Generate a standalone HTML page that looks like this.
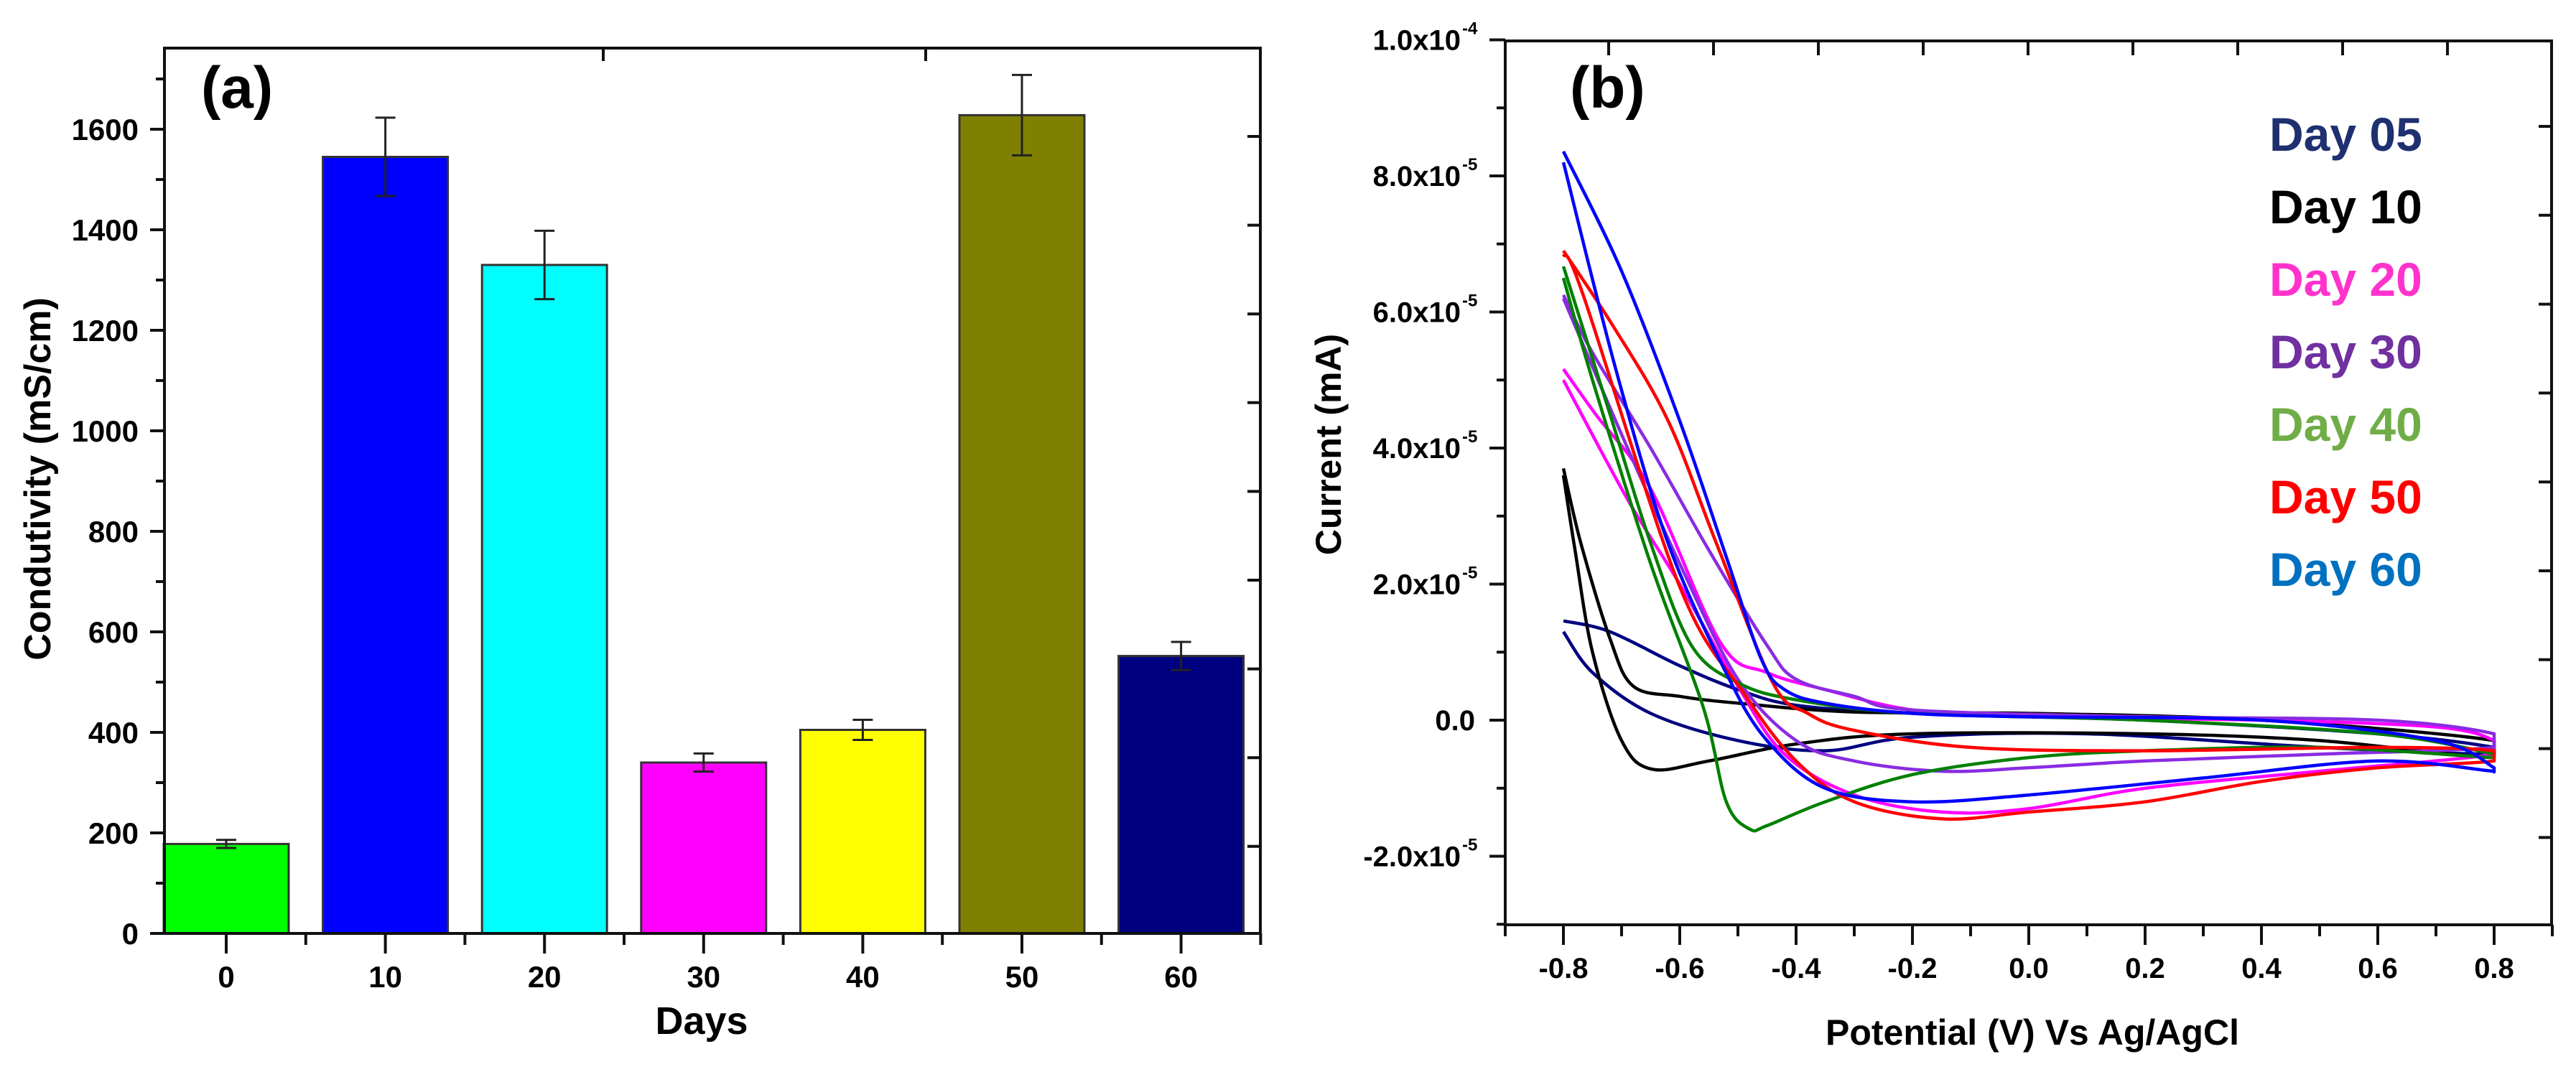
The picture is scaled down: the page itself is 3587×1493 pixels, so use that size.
<!DOCTYPE html>
<html><head><meta charset="utf-8"><style>
html,body{margin:0;padding:0;background:#fff}
svg{display:block}
text{font-family:"Liberation Sans",sans-serif;font-weight:bold}
</style></head><body>
<svg id="fig" xmlns="http://www.w3.org/2000/svg" width="3587" height="1493" viewBox="0 0 3587 1493">
<g id="chartA"></g>
<g id="chartB"></g>
</svg>
<script>
// ---- Chart A data ----
const daysCats = ["0","10","20","30","40","50","60"];
const condValues = [178, 1545, 1330, 340, 405, 1628, 552];
const condErrors = [8, 78, 68, 18, 20, 80, 28];
const barColors = ["#00ff00","#0000ff","#00ffff","#ff00ff","#ffff00","#808000","#000080"];
const condTicks = [0,200,400,600,800,1000,1200,1400,1600];

// ---- Chart B data (current in units of 1e-5 mA) ----
const cvTicksX = [-0.8,-0.6,-0.4,-0.2,0.0,0.2,0.4,0.6,0.8];
const cvTicksY = [-2,0,2,4,6,8,10];
const cvTickLabelsY = ["-2.0x10","0.0","2.0x10","4.0x10","6.0x10","8.0x10","1.0x10"];
const cvTickExpY = ["-5","","-5","-5","-5","-5","-4"];
const legendNames = ["Day 05","Day 10","Day 20","Day 30","Day 40","Day 50","Day 60"];
const legendColors = ["#1f3070","#000000","#ff33cc","#7030a0","#70ad47","#ff0000","#0070c0"];
const curveColors = ["#000080","#000000","#ff00ff","#8a2be2","#008000","#ff0000","#0000ff"];
const day05 = [[-0.8,1.46],[-0.72,1.3],[-0.6,0.8],[-0.5,0.45],[-0.4,0.22],[-0.2,0.1],[0.2,0.0],[0.6,-0.2],[0.8,-0.4],[0.8,-0.5],[0.5,-0.4],[0.1,-0.2],[-0.2,-0.25],[-0.35,-0.45],[-0.5,-0.3],[-0.65,0.1],[-0.75,0.7],[-0.8,1.3]];
const day10 = [[-0.8,3.7],[-0.77,2.6],[-0.72,1.2],[-0.68,0.5],[-0.6,0.35],[-0.5,0.25],[-0.3,0.12],[0,0.1],[0.4,0.0],[0.8,-0.3],[0.8,-0.55],[0.5,-0.3],[0.2,-0.2],[-0.2,-0.2],[-0.4,-0.35],[-0.55,-0.6],[-0.648,-0.72],[-0.7,-0.3],[-0.75,1.0],[-0.78,2.5],[-0.8,3.6]];
const day20 = [[-0.8,5.16],[-0.745,4.5],[-0.65,3.4],[-0.53,1.14],[-0.45,0.7],[-0.35,0.45],[-0.2,0.15],[0,0.05],[0.4,0.0],[0.7,-0.1],[0.8,-0.3],[0.8,-0.5],[0.5,-0.75],[0.2,-1.0],[0,-1.3],[-0.15,-1.35],[-0.3,-1.1],[-0.42,-0.5],[-0.5,0.5],[-0.6,2.0],[-0.69,3.25],[-0.8,5.0]];
const day30 = [[-0.8,6.25],[-0.75,5.4],[-0.65,4.0],[-0.55,2.5],[-0.45,1.1],[-0.4,0.6],[-0.3,0.35],[-0.2,0.15],[0.2,0.05],[0.6,0.0],[0.8,-0.2],[0.8,-0.4],[0.5,-0.5],[0.2,-0.6],[0,-0.7],[-0.15,-0.75],[-0.3,-0.6],[-0.4,-0.3],[-0.5,0.6],[-0.6,2.3],[-0.7,4.2],[-0.8,6.2]];
const day40 = [[-0.8,6.67],[-0.72,4.5],[-0.65,2.6],[-0.58,1.1],[-0.5,0.55],[-0.4,0.3],[-0.2,0.1],[0.2,0.0],[0.6,-0.2],[0.8,-0.5],[0.8,-0.55],[0.5,-0.4],[0.2,-0.45],[0,-0.55],[-0.2,-0.8],[-0.35,-1.2],[-0.45,-1.55],[-0.48,-1.6],[-0.52,-1.2],[-0.56,0.2],[-0.65,2.3],[-0.75,5.0],[-0.8,6.5]];
const day50 = [[-0.8,6.9],[-0.715,5.8],[-0.62,4.4],[-0.537,2.6],[-0.44,0.55],[-0.38,0.1],[-0.3,-0.15],[-0.1,-0.4],[0.2,-0.45],[0.6,-0.4],[0.8,-0.45],[0.8,-0.6],[0.6,-0.7],[0.4,-0.9],[0.2,-1.2],[0,-1.35],[-0.15,-1.45],[-0.3,-1.2],[-0.4,-0.6],[-0.49,0.4],[-0.6,1.96],[-0.766,6.25],[-0.8,6.85]];
const day60 = [[-0.8,8.36],[-0.7,6.6],[-0.6,4.4],[-0.52,2.4],[-0.46,0.9],[-0.42,0.45],[-0.35,0.25],[-0.2,0.1],[0,0.05],[0.4,0.0],[0.7,-0.3],[0.8,-0.7],[0.8,-0.75],[0.6,-0.6],[0.3,-0.85],[0,-1.1],[-0.2,-1.2],[-0.35,-1.0],[-0.45,-0.3],[-0.52,0.69],[-0.62,2.6],[-0.71,5.16],[-0.8,8.2]];
const cvSeries = [day05, day10, day20, day30, day40, day50, day60];

const NS = "http://www.w3.org/2000/svg";
function mk(parent, tag, attrs, txt){
  const e = document.createElementNS(NS, tag);
  for (const k in attrs) e.setAttribute(k, attrs[k]);
  if (txt !== undefined) e.textContent = txt;
  parent.appendChild(e); return e;
}

// ---------------- Chart A ----------------
(function(){
  const g = document.getElementById('chartA');
  const L=229, R=1755, T=67, B=1300;
  const yMax = (B-T)/140*200;
  const ys = v => B - v/yMax*(B-T);
  const xs = i => 315 + i*221.6;
  const bw = 174;
  condValues.forEach((v,i)=>{
    const r = mk(g,'rect',{x:xs(i)-bw/2,y:ys(v),width:bw,height:B-ys(v),fill:barColors[i],stroke:'#333',"stroke-width":3});
    
    
    const e = mk(g,'path',{d:`M${xs(i)},${ys(v+condErrors[i])}V${ys(v-condErrors[i])}M${xs(i)-14},${ys(v+condErrors[i])}h28M${xs(i)-14},${ys(v-condErrors[i])}h28`,stroke:'#222',"stroke-width":3,fill:'none'});
    
    
  });
  const fr = mk(g,'rect',{x:L,y:T,width:R-L,height:B-T,fill:'none',stroke:'#111',"stroke-width":4});
  
  
  condTicks.forEach(v=>{
    mk(g,'line',{x1:L-20,x2:L,y1:ys(v),y2:ys(v),stroke:'#111',"stroke-width":4});
    const t = mk(g,'text',{x:L-36,y:ys(v)+15,"text-anchor":'end',"font-size":42}, String(v));
    
    
  });
  for (let v=100; v<yMax; v+=200) mk(g,'line',{x1:L-12,x2:L,y1:ys(v),y2:ys(v),stroke:'#111',"stroke-width":4});
  for (let y=190; y<B-40; y+=123.6) mk(g,'line',{x1:R-18,x2:R,y1:y,y2:y,stroke:'#111',"stroke-width":4});
  [840,1289].forEach(x=>mk(g,'line',{x1:x,x2:x,y1:T,y2:T+18,stroke:'#111',"stroke-width":4}));
  daysCats.forEach((c,i)=>{
    mk(g,'line',{x1:xs(i),x2:xs(i),y1:B,y2:B+28,stroke:'#111',"stroke-width":4});
    mk(g,'line',{x1:xs(i)+110.8,x2:xs(i)+110.8,y1:B,y2:B+16,stroke:'#111',"stroke-width":4});
    const t = mk(g,'text',{x:xs(i),y:1375,"text-anchor":'middle',"font-size":42}, c);
    
    
  });
  const xt = mk(g,'text',{x:977,y:1440,"text-anchor":'middle',"font-size":54},'Days');
  
  
  const yt = mk(g,'text',{x:0,y:0,"text-anchor":'middle',"font-size":52,transform:'translate(70,667) rotate(-90)'},'Condutivity (mS/cm)');
  
  
  const pl = mk(g,'text',{x:280,y:150,"font-size":82},'(a)');
  
  
})();

// ---------------- Chart B ----------------
(function(){
  const g = document.getElementById('chartB');
  const L=2096, R=3553, T=57, B=1288;
  const xs = v => 2177 + (v+0.8)*810;
  const ys = v => 1003 - v*94.75;
  const xLo = xs(-0.8), xHi = xs(0.8);
  const cl = x => Math.min(xHi, Math.max(xLo, x));
  function path(pts){
    let d = `M${xs(pts[0][0]).toFixed(1)},${ys(pts[0][1]).toFixed(1)}`;
    for (let i=0;i<pts.length-1;i++){
      const p0=pts[Math.max(0,i-1)], p1=pts[i], p2=pts[i+1], p3=pts[Math.min(pts.length-1,i+2)];
      const c1x=cl(xs(p1[0])+(xs(p2[0])-xs(p0[0]))/6), c1y=ys(p1[1])+(ys(p2[1])-ys(p0[1]))/6;
      const c2x=cl(xs(p2[0])-(xs(p3[0])-xs(p1[0]))/6), c2y=ys(p2[1])-(ys(p3[1])-ys(p1[1]))/6;
      d += `C${c1x.toFixed(1)},${c1y.toFixed(1)} ${c2x.toFixed(1)},${c2y.toFixed(1)} ${xs(p2[0]).toFixed(1)},${ys(p2[1]).toFixed(1)}`;
    }
    return d;
  }
  cvSeries.forEach((s,i)=>{
    const p = mk(g,'path',{d:path(s),fill:'none',stroke:curveColors[i],"stroke-width":4.5,"stroke-linejoin":'round'});
    
    
  });
  const fr = mk(g,'rect',{x:L,y:T,width:R-L,height:B-T,fill:'none',stroke:'#111',"stroke-width":4});
  
  
  cvTicksY.forEach((v,i)=>{
    mk(g,'line',{x1:L-22,x2:L,y1:ys(v),y2:ys(v),stroke:'#111',"stroke-width":4});
    const t = mk(g,'text',{x:cvTickExpY[i]?2034:2054,y:ys(v)+14,"text-anchor":'end',"font-size":40}, cvTickLabelsY[i]);
    
    
    if (cvTickExpY[i]){
      const s = mk(g,'text',{x:2036,y:ys(v)-8,"font-size":24}, cvTickExpY[i]);
      
      
    }
  });
  for (let v=-3; v<10; v+=2) mk(g,'line',{x1:L-12,x2:L,y1:ys(v),y2:ys(v),stroke:'#111',"stroke-width":4});
  for (let y=176; y<B-40; y+=123.8) mk(g,'line',{x1:R-18,x2:R,y1:y,y2:y,stroke:'#111',"stroke-width":4});
  for (let x=2240; x<R-40; x+=146) mk(g,'line',{x1:x,x2:x,y1:T,y2:T+20,stroke:'#111',"stroke-width":4});
  cvTicksX.forEach(v=>{
    mk(g,'line',{x1:xs(v),x2:xs(v),y1:B,y2:B+28,stroke:'#111',"stroke-width":4});
    const t = mk(g,'text',{x:xs(v),y:1362,"text-anchor":'middle',"font-size":40}, v.toFixed(1));
    
    
  });
  for (let v=-0.9; v<0.95; v+=0.2) mk(g,'line',{x1:xs(v),x2:xs(v),y1:B,y2:B+16,stroke:'#111',"stroke-width":4});
  const xt = mk(g,'text',{x:2830,y:1455,"text-anchor":'middle',"font-size":50},'Potential (V) Vs Ag/AgCl');
  
  
  const yt = mk(g,'text',{x:0,y:0,"text-anchor":'middle',"font-size":50,transform:'translate(1867,619) rotate(-90)'},'Current (mA)');
  
  
  const pl = mk(g,'text',{x:2186,y:150,"font-size":82},'(b)');
  
  
  legendNames.forEach((n,i)=>{
    const t = mk(g,'text',{x:3160,y:210+i*101,"font-size":66,fill:legendColors[i]}, n);
    
    
  });
})();
</script>
</body></html>
